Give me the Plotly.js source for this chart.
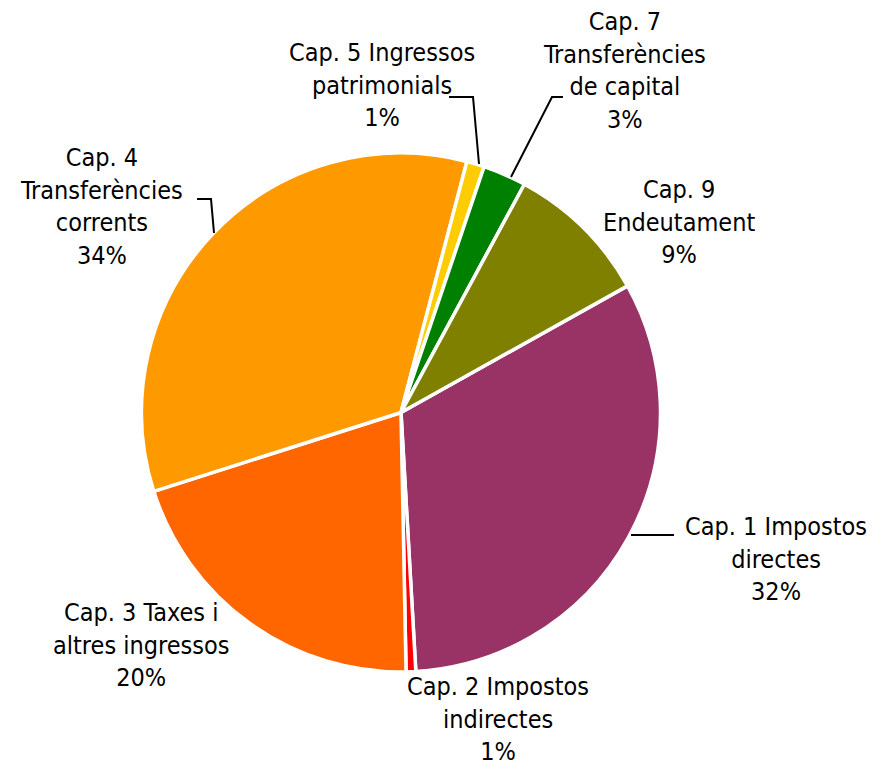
<!DOCTYPE html>
<html>
<head>
<meta charset="utf-8">
<script src="https://cdn.plot.ly/plotly-3.0.1.min.js"></script>
<style>html,body{margin:0;padding:0;background:#fff;}</style>
</head>
<body>
<div id="chart" style="width:877px;height:766px;"></div>
<script>
// Data
const categories = [
  "Cap. 1 Impostos directes",
  "Cap. 2 Impostos indirectes",
  "Cap. 3 Taxes i altres ingressos",
  "Cap. 4 Transferències corrents",
  "Cap. 5 Ingressos patrimonials",
  "Cap. 7 Transferències de capital",
  "Cap. 9 Endeutament"
];
const values = [32.2, 0.6, 20.4, 34.0, 1.1, 2.7, 9.0];
const labelTexts = [
  "Cap. 1 Impostos<br>directes<br>32%",
  "Cap. 2 Impostos<br>indirectes<br>1%",
  "Cap. 3 Taxes i<br>altres ingressos<br>20%",
  "Cap. 4<br>Transferències<br>corrents<br>34%",
  "Cap. 5 Ingressos<br>patrimonials<br>1%",
  "Cap. 7<br>Transferències<br>de capital<br>3%",
  "Cap. 9<br>Endeutament<br>9%"
];
const colors = ["#993366", "#FF0000", "#FF6600", "#FF9900", "#FFCC00", "#008000", "#808000"];

// Layout helpers (pixel -> paper)
const W = 877, H = 766;
const px = x => x / W;
const py = y => 1 - y / H;

const cx = 401, cy = 412.5, R = 259.5;

const labelPos = [
  [776, 559], [497.5, 719], [141, 645], [101.5, 206], [381.5, 85], [624, 70], [678.5, 222]
];
const leaders = [
  [[631, 535], [674, 535]],
  null,
  null,
  [[197, 199], [211, 199], [214, 233]],
  [[449, 97], [473, 97], [479, 164]],
  [[563, 97], [552, 97], [511, 177]],
  null
];

const annotations = labelTexts.map((t, i) => ({
  text: t,
  x: px(labelPos[i][0]), y: py(labelPos[i][1]),
  xref: "paper", yref: "paper",
  xanchor: "center", yanchor: "middle",
  align: "center",
  showarrow: false,
  font: {family: "DejaVu Sans Condensed, DejaVu Sans, sans-serif", size: 25, color: "#000"}
}));

const shapes = leaders.filter(l => l).map(l => ({
  type: "path",
  xref: "paper", yref: "paper",
  path: l.map((p, j) => (j ? "L" : "M") + px(p[0]) + "," + py(p[1])).join(" "),
  line: {color: "#000", width: 2}
}));

const trace = {
  type: "pie",
  labels: categories,
  values: values,
  sort: false,
  direction: "clockwise",
  rotation: 60.8,
  marker: {colors: colors, line: {color: "#fff", width: 3.5}},
  textinfo: "none",
  hoverinfo: "label+percent",
  domain: {x: [px(cx - R), px(cx + R)], y: [py(cy + R), py(cy - R)]},
  showlegend: false
};

Plotly.newPlot("chart", [trace], {
  width: W, height: H,
  margin: {l: 0, r: 0, t: 0, b: 0},
  paper_bgcolor: "#fff",
  showlegend: false,
  annotations: annotations,
  shapes: shapes
}, {displayModeBar: false, staticPlot: true});
</script>
</body>
</html>
